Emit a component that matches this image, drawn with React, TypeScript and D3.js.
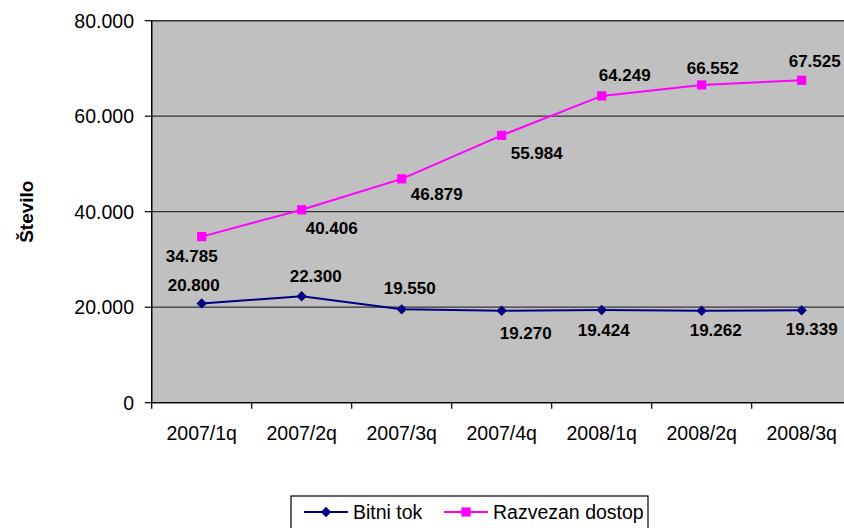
import React from "react";
import * as d3 from "d3";

const categories = ["2007/1q", "2007/2q", "2007/3q", "2007/4q", "2008/1q", "2008/2q", "2008/3q"];
const bitniTok = [20800, 22300, 19550, 19270, 19424, 19262, 19339];
const razvezanDostop = [34785, 40406, 46879, 55984, 64249, 66552, 67525];
const yTicks = [0, 20000, 40000, 60000, 80000];
const seriesNames = ["Bitni tok", "Razvezan dostop"];

// label offsets (dx, dy of baseline) relative to point
const bitniLabelOffsets: [number, number][] = [[-8, -12], [14, -14], [8, -15], [24, 28], [2, 26], [14, 25], [10, 25]];
const razvLabelOffsets: [number, number][] = [[-10, 25], [30, 24], [35, 21], [35, 24], [23, -15], [11, -11], [13, -13]];

const W = 844, H = 528;
const left = 151.7, right = 851.7, top = 20.7, bottom = 402.7;
const FONT = "'Liberation Sans', Arial, sans-serif";

const fmt = (v: number) => {
  const s = d3.format(",")(v);
  return s.replace(/,/g, ".");
};

export default function App() {
  const x = d3.scaleBand<string>().domain(categories).range([left, right]);
  const y = d3.scaleLinear().domain([0, 80000]).range([bottom, top]);
  const cx = (c: string) => (x(c) as number) + x.bandwidth() / 2;
  const line = d3.line<number>().x((_, i) => cx(categories[i])).y((d) => y(d));
  const navy = "#000080";
  const mag = "#FF00FF";
  const diamond = (px: number, py: number, r: number) =>
    `M${px},${py - r}L${px + r},${py}L${px},${py + r}L${px - r},${py}Z`;

  return (
    <svg width={W} height={H} style={{ position: "absolute", left: 0, top: 0, fontFamily: FONT }}>
      <rect x={0} y={0} width={W} height={H} fill="#ffffff" />
      <rect x={left} y={top} width={right - left} height={bottom - top} fill="#C0C0C0" stroke="#333" strokeWidth={1.2} />
      {yTicks.map((t) => (
        <g key={t}>
          {t > 0 && <line x1={left} x2={right} y1={y(t)} y2={y(t)} stroke="#333" strokeWidth={1.2} />}
          <line x1={left - 7} x2={left} y1={y(t)} y2={y(t)} stroke="#000" strokeWidth={1.2} />
          <text x={134} y={y(t)} dy="0.36em" textAnchor="end" fontSize={19.5} fill="#000">
            {fmt(t)}
          </text>
        </g>
      ))}
      <line x1={left} x2={left} y1={top} y2={bottom + 6} stroke="#000" strokeWidth={1.3} />
      <line x1={left} x2={right} y1={bottom} y2={bottom} stroke="#000" strokeWidth={1.3} />
      {categories.map((c, i) => (
        <g key={c}>
          <line x1={(x(c) as number) + x.bandwidth()} x2={(x(c) as number) + x.bandwidth()} y1={bottom} y2={bottom + 6} stroke="#000" strokeWidth={1.2} />
          <text x={cx(c)} y={440} textAnchor="middle" fontSize={19.5} fill="#000">{c}</text>
        </g>
      ))}
      <path d={line(bitniTok) || ""} fill="none" stroke={navy} strokeWidth={2} />
      <path d={line(razvezanDostop) || ""} fill="none" stroke={mag} strokeWidth={2} />
      {bitniTok.map((v, i) => (
        <path key={"b" + i} d={diamond(cx(categories[i]), y(v), 5.2)} fill={navy} />
      ))}
      {razvezanDostop.map((v, i) => (
        <rect key={"r" + i} x={cx(categories[i]) - 4.6} y={y(v) - 4.6} width={9.2} height={9.2} fill={mag} />
      ))}
      {bitniTok.map((v, i) => (
        <text key={"bl" + i} x={cx(categories[i]) + bitniLabelOffsets[i][0]} y={y(v) + bitniLabelOffsets[i][1]} textAnchor="middle" fontSize={17} fontWeight="bold" fill="#000">
          {fmt(v)}
        </text>
      ))}
      {razvezanDostop.map((v, i) => (
        <text key={"rl" + i} x={cx(categories[i]) + razvLabelOffsets[i][0]} y={y(v) + razvLabelOffsets[i][1]} textAnchor="middle" fontSize={17} fontWeight="bold" fill="#000">
          {fmt(v)}
        </text>
      ))}
      <text transform={`translate(33,${(top + bottom) / 2}) rotate(-90)`} textAnchor="middle" fontSize={19} fontWeight="bold" fill="#000">
        Število
      </text>
      <rect x={291} y={496} width={357} height={40} fill="#fff" stroke="#000" strokeWidth={1.2} />
      <line x1={304} x2={348} y1={512} y2={512} stroke={navy} strokeWidth={2} />
      <path d={diamond(326, 512, 5.2)} fill={navy} />
      <text x={353} y={518.5} fontSize={19.5} fill="#000">{seriesNames[0]}</text>
      <line x1={444} x2={488} y1={512} y2={512} stroke={mag} strokeWidth={2} />
      <rect x={466 - 4.6} y={512 - 4.6} width={9.2} height={9.2} fill={mag} />
      <text x={493} y={518.5} fontSize={19.5} fill="#000">{seriesNames[1]}</text>
    </svg>
  );
}
